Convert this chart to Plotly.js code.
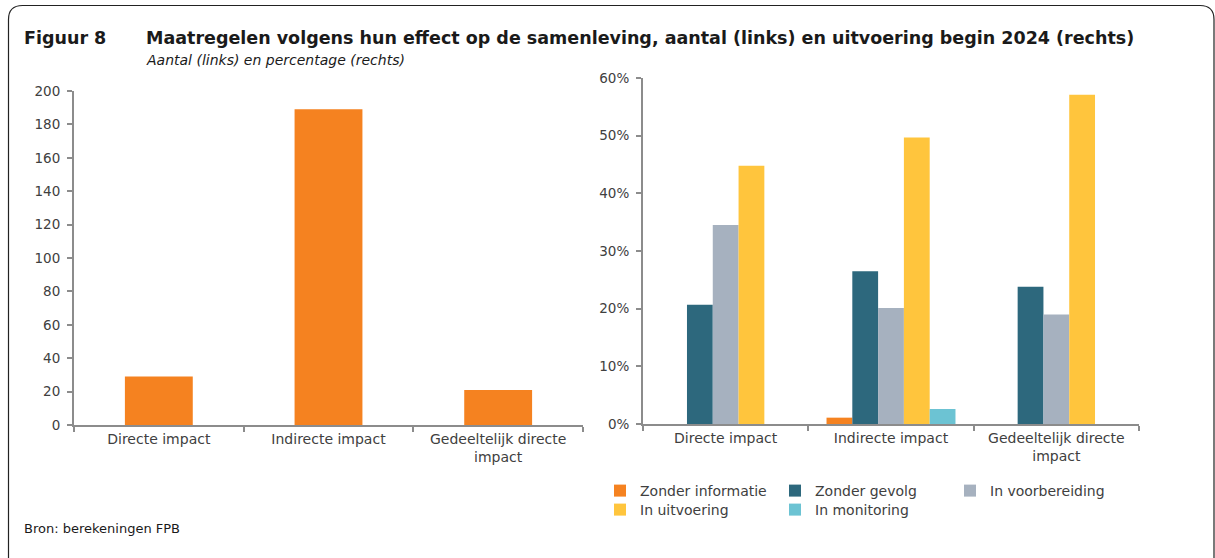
<!DOCTYPE html>
<html>
<head>
<meta charset="utf-8">
<script src="https://cdn.plot.ly/plotly-3.0.1.min.js"></script>
<style>
html,body{margin:0;padding:0;background:#fff;}
#chart{width:1215px;height:558px;}
</style>
</head>
<body>
<div id="chart"></div>
<script>
// ---- data ----
const categories = ['Directe impact', 'Indirecte impact', 'Gedeeltelijk directe impact'];
const tickLabels = ['Directe impact', 'Indirecte impact', 'Gedeeltelijk directe<br>impact'];
const aantal = [29, 189, 21];
const seriesNames = ['Zonder informatie', 'Zonder gevolg', 'In voorbereiding', 'In uitvoering', 'In monitoring'];
const zonderInformatie = [0, 1.1, 0];
const zonderGevolg = [20.7, 26.5, 23.8];
const inVoorbereiding = [34.5, 20.1, 19.0];
const inUitvoering = [44.8, 49.7, 57.1];
const inMonitoring = [0, 2.6, 0];
const leftTicks = [0, 20, 40, 60, 80, 100, 120, 140, 160, 180, 200];
const rightTicks = [0, 10, 20, 30, 40, 50, 60];

// ---- styling ----
const W = 1215, H = 558;
const px = x => x / W;
const py = y => 1 - y / H;
const FONT = '"DejaVu Sans", "Open Sans", sans-serif';
const TXT = '#404040';
const AX = '#8c8c8c';
const colors = ['#F58220', '#2D687D', '#A6B1BF', '#FFC53D', '#6CC3D3'];
const rightValues = [zonderInformatie, zonderGevolg, inVoorbereiding, inUitvoering, inMonitoring];

const traces = [{
  type: 'bar', x: categories, y: aantal, xaxis: 'x', yaxis: 'y',
  marker: {color: colors[0]}, width: 0.4, showlegend: false, hoverinfo: 'skip'
}];
rightValues.forEach((vals, i) => {
  traces.push({
    type: 'bar', x: categories, y: vals, xaxis: 'x2', yaxis: 'y2',
    name: seriesNames[i], marker: {color: colors[i]},
    legend: i < 3 ? 'legend' : 'legend2', hoverinfo: 'skip'
  });
});

const xCommon = {
  type: 'category', tickson: 'boundaries', ticks: 'outside', ticklen: 5,
  tickcolor: AX, tickwidth: 2, showline: true, linecolor: AX, linewidth: 2,
  showgrid: false, zeroline: false, tickvals: categories, ticktext: tickLabels,
  tickfont: {family: FONT, size: 14, color: TXT}, fixedrange: true
};
const yCommon = {
  ticks: 'outside', ticklen: 5, tickcolor: AX, tickwidth: 2, showline: true,
  linecolor: AX, linewidth: 2, showgrid: false, zeroline: false,
  tickfont: {family: FONT, size: 13.5, color: TXT}, ticklabelstandoff: 4, fixedrange: true
};

// rounded frame
const x0 = px(8.5), x1 = px(1214), y0 = py(5.5), y1 = py(570);
const rx = px(14) , ry = 14 / H;
const framePath = `M ${x0} ${y1} L ${x0} ${y0 - ry} Q ${x0} ${y0} ${x0 + rx} ${y0} L ${x1 - rx} ${y0} Q ${x1} ${y0} ${x1} ${y0 - ry} L ${x1} ${y1}`;

const legendFont = {family: FONT, size: 14, color: TXT};
const layout = {
  width: W, height: H,
  margin: {l: 0, r: 0, t: 0, b: 0},
  paper_bgcolor: '#fff', plot_bgcolor: '#fff',
  barmode: 'group', bargap: 0.22, bargroupgap: 0,
  font: {family: FONT, color: TXT},
  xaxis: Object.assign({}, xCommon, {domain: [px(74), px(583)], anchor: 'y'}),
  yaxis: Object.assign({}, yCommon, {domain: [py(425), py(91)], range: [0, 200], tickvals: leftTicks, anchor: 'x'}),
  xaxis2: Object.assign({}, xCommon, {domain: [px(643), px(1139)], anchor: 'y2'}),
  yaxis2: Object.assign({}, yCommon, {domain: [py(424), py(78)], range: [0, 60], tickvals: rightTicks,
    ticktext: rightTicks.map(v => v + '%'), anchor: 'x2'}),
  legend: {orientation: 'h', x: px(600), y: py(475), xanchor: 'left', yanchor: 'top',
    entrywidth: 130, font: legendFont, bgcolor: 'rgba(0,0,0,0)', traceorder: 'normal'},
  legend2: {orientation: 'h', x: px(600), y: py(494), xanchor: 'left', yanchor: 'top',
    entrywidth: 130, font: legendFont, bgcolor: 'rgba(0,0,0,0)', traceorder: 'normal'},
  shapes: [{type: 'path', xref: 'paper', yref: 'paper', path: framePath,
    line: {color: '#222', width: 1.2}, fillcolor: 'rgba(0,0,0,0)'}],
  annotations: [
    {xref: 'paper', yref: 'paper', x: px(22), y: py(38), xanchor: 'left', yanchor: 'middle', showarrow: false,
      text: '<b>Figuur 8</b>', font: {family: FONT, size: 17.5, color: '#1a1a1a'}},
    {xref: 'paper', yref: 'paper', x: px(144), y: py(38), xanchor: 'left', yanchor: 'middle', showarrow: false,
      text: '<b>Maatregelen volgens hun effect op de samenleving, aantal (links) en uitvoering begin 2024 (rechts)</b>',
      font: {family: FONT, size: 17.5, color: '#1a1a1a'}},
    {xref: 'paper', yref: 'paper', x: px(144), y: py(60), xanchor: 'left', yanchor: 'middle', showarrow: false,
      text: '<i>Aantal (links) en percentage (rechts)</i>', font: {family: FONT, size: 14, color: '#1a1a1a'}},
    {xref: 'paper', yref: 'paper', x: px(22), y: py(528), xanchor: 'left', yanchor: 'middle', showarrow: false,
      text: 'Bron: berekeningen FPB', font: {family: FONT, size: 13, color: '#1a1a1a'}}
  ]
};

Plotly.newPlot('chart', traces, layout, {displayModeBar: false, staticPlot: true});
</script>
</body>
</html>
